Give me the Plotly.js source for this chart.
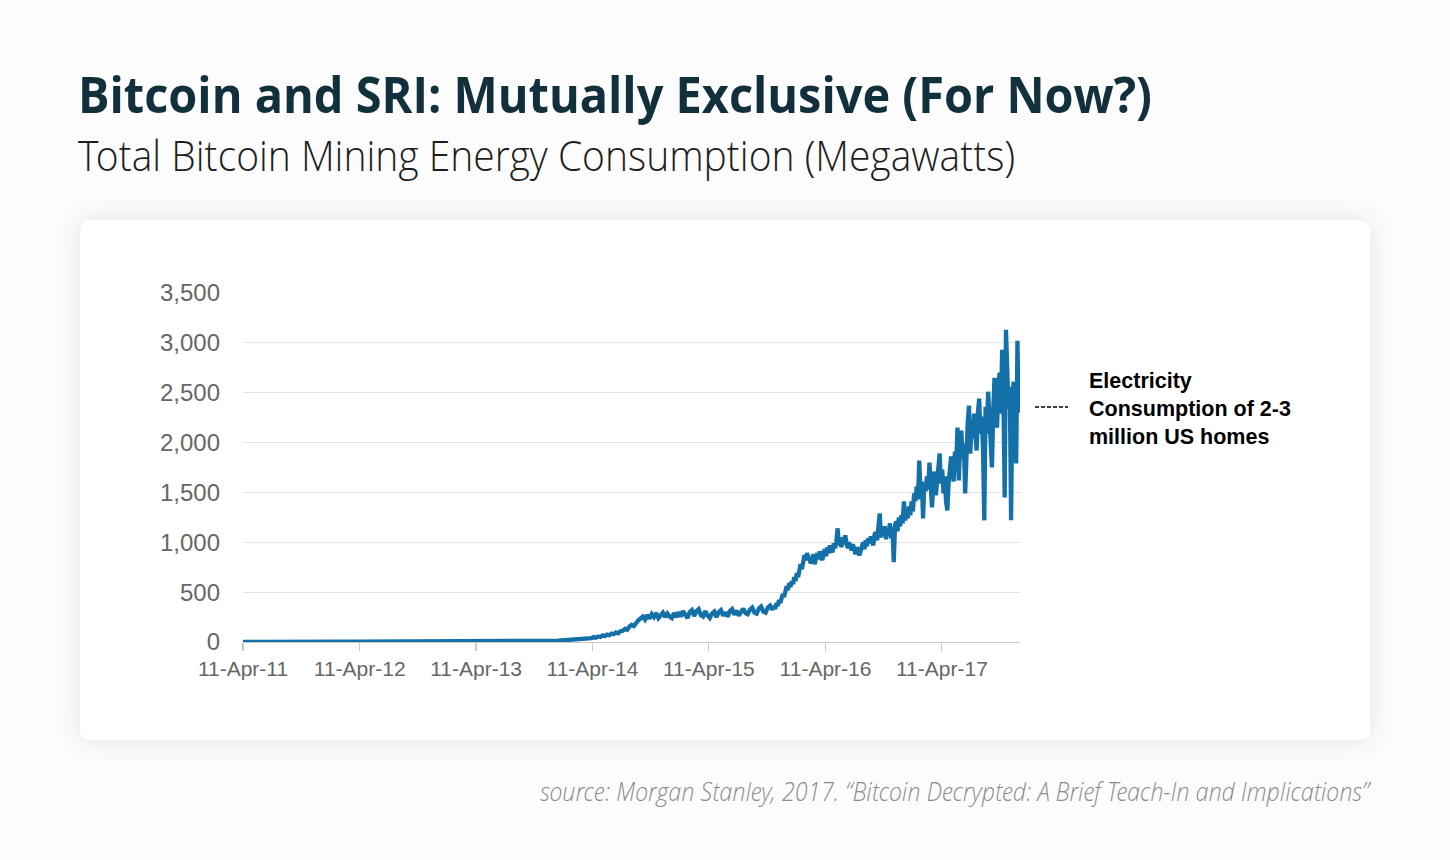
<!DOCTYPE html>
<html>
<head>
<meta charset="utf-8">
<script src="https://cdn.plot.ly/plotly-3.0.1.min.js"></script>
<style>
  html, body { margin: 0; padding: 0; background: #fcfcfc; }
  #wrap { position: relative; width: 1450px; height: 860px; overflow: hidden; }
  #card { position: absolute; left: 80px; top: 220px; width: 1290px; height: 520px;
          background: #ffffff; border-radius: 10px; box-shadow: 0 0 28px rgba(0,0,0,0.10); z-index: 0; }
  #chart { position: absolute; left: 0; top: 0; width: 1450px; height: 860px; z-index: 1; }
</style>
</head>
<body>
<div id="wrap">
  <div id="card"></div>
  <div id="chart"></div>
</div>
<script>
// ---------- DATA ----------
const titleText = "Bitcoin and SRI: Mutually Exclusive (For Now?)";
const subtitleText = "Total Bitcoin Mining Energy Consumption (Megawatts)";
const sourceText = "source: Morgan Stanley, 2017. \u201CBitcoin Decrypted: A Brief Teach-In and Implications\u201D";
const noteText = "Electricity<br>Consumption of 2-3<br>million US homes";

const tickDates = ["2011-04-11","2012-04-11","2013-04-11","2014-04-11","2015-04-11","2016-04-11","2017-04-11"];
const tickLabels = ["11-Apr-11","11-Apr-12","11-Apr-13","11-Apr-14","11-Apr-15","11-Apr-16","11-Apr-17"];

// Segment 1: monthly samples (30 days) from 2011-04-11
const seg1Start = "2011-04-11", seg1Step = 30;
const seg1Values = [2,3,3,4,4,4,3,3,3,3,3,3,3,3,3,3,3,3,2,2,2,2,2,2,2,3,3,3,4,4,5];

// Segment 2: weekly samples from 2013-10-15
const seg2Start = "2013-10-15", seg2Step = 7;
const seg2Values = [
  5,6,6,7,8,8,9,10,11,12,13,15,17,
  18,20,21,24,22,27,25,31,29,36,33,42,38,
  50,44,56,50,66,58,74,68,84,78,96,88,108,
  112,132,122,155,172,160,198,218,236,
  255,225,270,235,280,250,290,240,275,295,250,285,255,
  240,290,250,300,255,310,265,240,300,320,
  260,310,330,270,255,310,265,240,285,305,
  250,300,320,265,300,255,310,330,275,315,
  265,305,335,290,280,325,345,295,285,335,
  355,305,295,345,365,325
];

// Segment 3: 4-day samples from 2015-11-01
const seg3Start = "2015-11-01", seg3Step = 4;
const seg3Values = [
  360,330,390,360,420,390,450,480,450,530,
  560,520,590,550,610,580,650,610,690,650,
  700,780,730,810,870,820,890,850,830,790,
  830,880,780,860,890,830,910,850,820,890,
  930,860,950,890,970,920,900,990,940,1010,
  1140,970,1030,950,1050,980,1070,990,940,1000,
  950,920,980,910,880,950,900,870,910,970,
  1000,930,1020,960,1040,990,1060,1010,970,1080,
  1100,1020,1120,1290,1050,1130,1070,1160,1030,1140,
  1090,1190,1040,1150,800,1170,1210,1110,1250,1160,
  1270,1190,1410,1220,1310,1240,1360,1270,1410,1310,
  1490,1410,1560,1430,1820,1490,1610,1240,1590,1510,
  1660,1530,1800,1610,1350,1570,1710,1470,1650,1770,
  1890,1590,1730,1490,1660,1410,1320,1590,1710,1860,
  1750,1610,1910,1790,2150,1620,1960,2120,1840,1990,
  1490,2060,2200,2370,1890,2160,2040,2290,2090,1920,
  2300,2440,2090,2260,1940,1220,2360,2090,2510,2190,
  2000,1750,2310,2650,2390,2150,2560,2700,2290,2930,
  2450,1450,3130,2700,2340,2560,1220,2400,2610,2190,
  1790,3020,2300,2700
];

// ---------- BUILD ----------
function addDays(iso, n) {
  const d = new Date(iso + "T00:00:00Z");
  d.setUTCDate(d.getUTCDate() + n);
  return d.toISOString().slice(0, 10);
}
const xs = [], ys = [];
[[seg1Start, seg1Step, seg1Values], [seg2Start, seg2Step, seg2Values], [seg3Start, seg3Step, seg3Values]]
  .forEach(([s, st, vals]) => vals.forEach((v, i) => { xs.push(addDays(s, i * st)); ys.push(v); }));
const lastDate = xs[xs.length - 1];

// layout geometry (pixels)
const L = 243, R = 1450 - 1020, T = 293, B = 860 - 642;
const PW = 1450 - L - R, PH = 860 - T - B;
const px2x = p => (p - L) / PW;
const px2y = p => (860 - B - p) / PH;

const trace = {
  x: xs, y: ys, type: "scatter", mode: "lines",
  line: { color: "#1470a8", width: 4.3 },
  hoverinfo: "skip", showlegend: false
};

const layout = {
  width: 1450, height: 860,
  margin: { l: L, r: R, t: T, b: B, pad: 0 },
  paper_bgcolor: "rgba(0,0,0,0)", plot_bgcolor: "rgba(0,0,0,0)",
  showlegend: false,
  title: {
    text: "<b>" + titleText + "</b>",
    xref: "container", yref: "container",
    x: 615 / 1450, xanchor: "center",
    y: 1 - 95 / 860, yanchor: "middle",
    font: { family: "Open Sans, sans-serif", size: 51, color: "#12303c" }
  },
  xaxis: {
    type: "date", range: ["2011-04-11", lastDate],
    tickvals: tickDates, ticktext: tickLabels,
    showgrid: false, zeroline: false,
    showline: true, linecolor: "#c9c9c9", linewidth: 1.2,
    ticks: "outside", ticklen: 8, tickcolor: "#c9c9c9", tickwidth: 1.2,
    tickfont: { family: "Liberation Sans, Arial, sans-serif", size: 21, color: "#666666" },
    automargin: false, fixedrange: true
  },
  yaxis: {
    range: [0, 3500], tickvals: [0,500,1000,1500,2000,2500,3000,3500],
    ticktext: ["0","500","1,000","1,500","2,000","2,500","3,000","3,500"],
    showgrid: true, gridcolor: "#e3e3e3", gridwidth: 1,
    zeroline: false, showline: false, ticks: "",
    ticklabelstandoff: 22,
    tickfont: { family: "Liberation Sans, Arial, sans-serif", size: 24, color: "#666666" },
    automargin: false, fixedrange: true
  },
  annotations: [
    { text: subtitleText, xref: "paper", yref: "paper",
      x: px2x(546.5), y: px2y(155), xanchor: "center", yanchor: "middle", showarrow: false,
      font: { family: "Open Sans Light, Open Sans, sans-serif", size: 42, color: "#1e1e1e", weight: 300 } },
    { text: "<i>" + sourceText + "</i>", xref: "paper", yref: "paper",
      x: px2x(955.5), y: px2y(791), xanchor: "center", yanchor: "middle", showarrow: false,
      font: { family: "Open Sans Light, Open Sans, sans-serif", size: 25, color: "#8c8c8c", weight: 300 } },
    { text: "<b>" + noteText + "</b>", xref: "paper", yref: "paper",
      x: px2x(1087), y: px2y(409), xanchor: "left", yanchor: "middle", align: "left", showarrow: false,
      font: { family: "Liberation Sans, Arial, sans-serif", size: 21.5, color: "#000000" } }
  ],
  shapes: [
    { type: "line", xref: "paper", yref: "paper",
      x0: px2x(1035), x1: px2x(1068), y0: px2y(407), y1: px2y(407),
      line: { color: "#000000", width: 1.3, dash: "4px,2px" } }
  ]
};

Plotly.newPlot("chart", [trace], layout, { staticPlot: true, displayModeBar: false }).then(() => {
  // condense the headline texts horizontally to the reference widths
  const fit = (el, w) => { if (el) { el.setAttribute("textLength", w); el.setAttribute("lengthAdjust", "spacingAndGlyphs"); } };
  fit(document.querySelector(".gtitle"), 1074);
  const ann = document.querySelectorAll(".annotation-text");
  fit(ann[0], 937);
  fit(ann[1], 829);
});
</script>
</body>
</html>
